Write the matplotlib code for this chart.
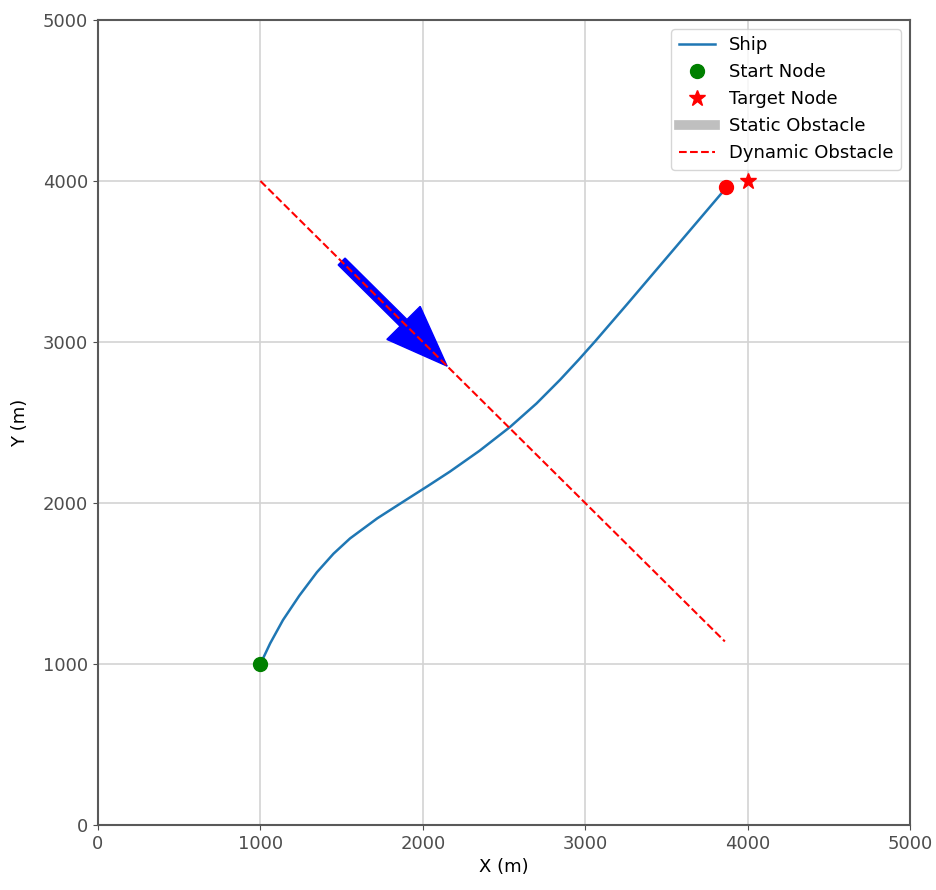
import matplotlib.pyplot as plt

# ship trajectory
ship_x = [1000, 1060, 1139, 1240, 1348, 1450, 1552, 1720, 1890, 2030, 2167, 2350, 2537, 2700, 2845, 2960, 3060, 3260, 3460, 3660, 3870]
ship_y = [1000, 1128, 1273, 1425, 1570, 1685, 1780, 1905, 2015, 2105, 2195, 2325, 2472, 2618, 2765, 2890, 3003, 3237, 3474, 3711, 3960]

start = (1000, 1000)
target = (4000, 4000)

# dynamic obstacle track
obs_x = [1000, 3860]
obs_y = [4000, 1140]
arrow_start = (1500, 3500)
arrow_delta = (650, -650)

plt.rcParams['font.size'] = 13

fig = plt.figure(figsize=(9.37, 8.9), dpi=100)
fig.set_facecolor('white')
ax = fig.add_axes([98/937, 65/890, 812/937, 805/890])

ax.arrow(arrow_start[0], arrow_start[1], arrow_delta[0], arrow_delta[1],
         width=60, head_width=290, head_length=380, length_includes_head=True,
         color='blue', zorder=2)
ax.plot(ship_x, ship_y, color='C0', lw=1.8, label='Ship', zorder=3)
ax.plot(start[0], start[1], 'o', color='green', ms=10, label='Start Node', zorder=4)
ax.plot(target[0], target[1], '*', color='red', ms=12, label='Target Node', zorder=4)
ax.plot([], [], color='gray', alpha=0.5, lw=7, label='Static Obstacle')
ax.plot(obs_x, obs_y, '--', color='red', lw=1.5, label='Dynamic Obstacle', zorder=3)
ax.plot(ship_x[-1], ship_y[-1], 'o', color='red', ms=10, zorder=4)

ax.set_xlim(0, 5000)
ax.set_ylim(0, 5000)
ax.set_xlabel('X (m)')
ax.set_ylabel('Y (m)', labelpad=10)
ax.grid(True, color='lightgray', lw=1.2)
for s in ax.spines.values():
    s.set_color('0.35')
    s.set_linewidth(1.5)
ax.tick_params(colors='0.3')
ax.legend(loc='upper right')

plt.savefig('out.png', dpi=100)
